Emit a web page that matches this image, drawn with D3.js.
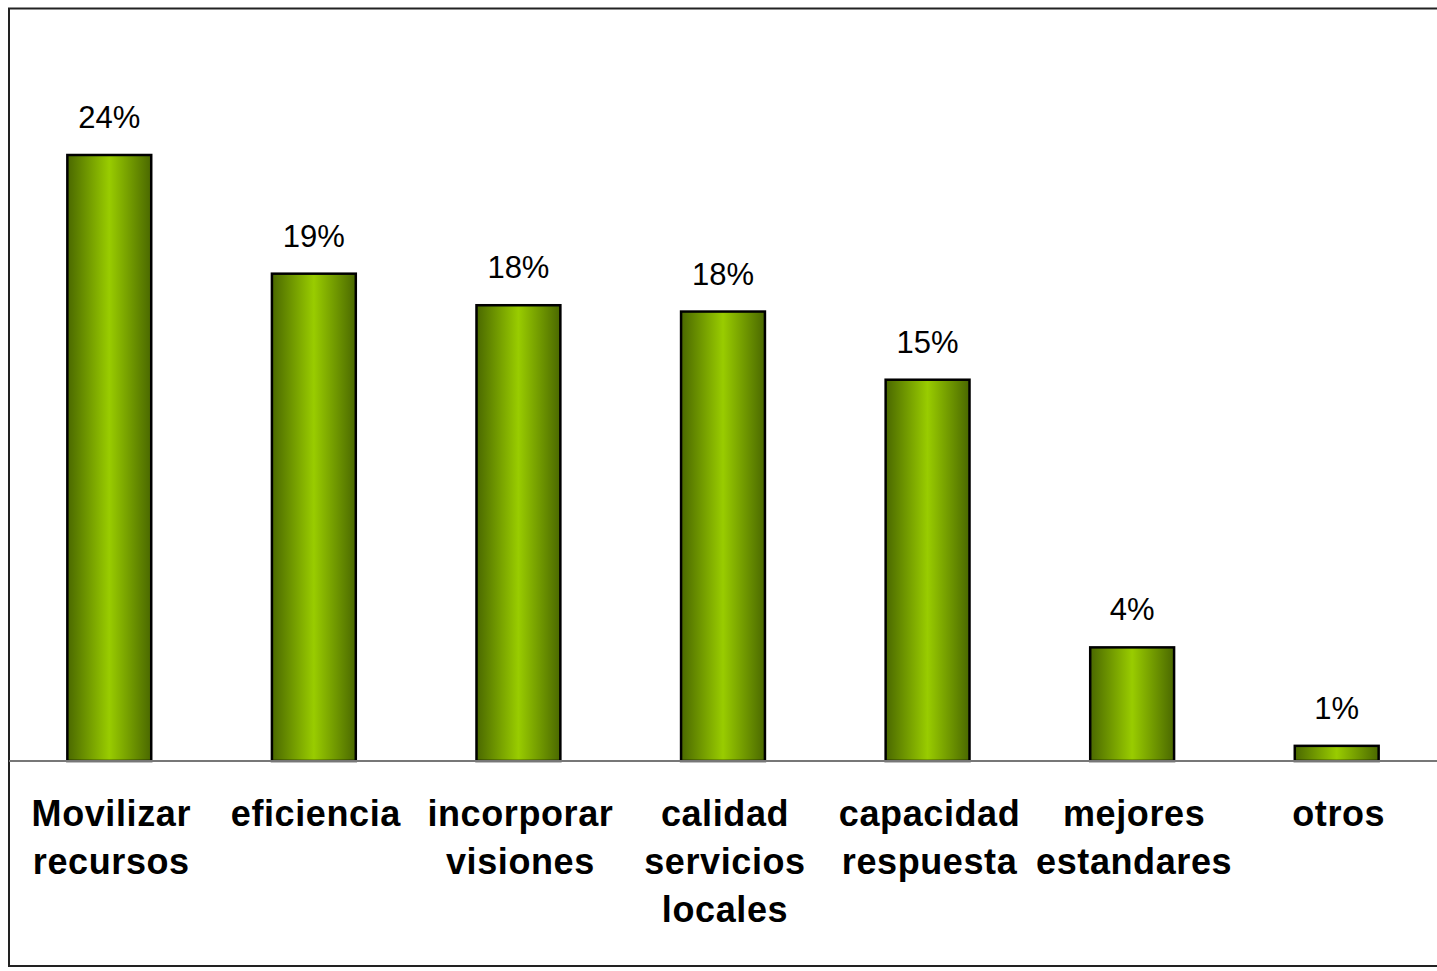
<!DOCTYPE html>
<html>
<head>
<meta charset="utf-8">
<script src="https://cdn.jsdelivr.net/npm/d3@7"></script>
<style>
html,body{margin:0;padding:0;background:#fff;overflow:hidden;}
svg{display:block;}
</style>
</head>
<body>
<svg id="chart" width="1437" height="971"></svg>
<script>
const categories = [
  ["Movilizar","recursos"],
  ["eficiencia"],
  ["incorporar","visiones"],
  ["calidad","servicios","locales"],
  ["capacidad","respuesta"],
  ["mejores","estandares"],
  ["otros"]
];
const values = [24.0, 19.3, 18.05, 17.8, 15.1, 4.5, 0.6];
const valueLabels = ["24%","19%","18%","18%","15%","4%","1%"];

const svg = d3.select("#chart");
const W = 1437, H = 971;
const baseY = 761;

const defs = svg.append("defs");
const grad = defs.append("linearGradient").attr("id","barGrad")
  .attr("x1","0%").attr("x2","100%").attr("y1","0%").attr("y2","0%");
grad.append("stop").attr("offset","0%").attr("stop-color","#4a6800");
grad.append("stop").attr("offset","50%").attr("stop-color","#99cc00");
grad.append("stop").attr("offset","100%").attr("stop-color","#4a6800");

// frame
svg.append("rect").attr("x",9).attr("y",8.5).attr("width",1460).attr("height",957.5)
  .attr("fill","none").attr("stroke","#222").attr("stroke-width",2);

const x = d3.scaleBand().domain(d3.range(categories.length))
  .range([7, 1439]).paddingInner(0.59).paddingOuter(0.295);
const y = d3.scaleLinear().domain([0, 30]).range([baseY, baseY - 30*25.25]);

const g = svg.append("g");
g.selectAll("rect.bar").data(values).enter().append("rect")
  .attr("class","bar")
  .attr("x",(d,i)=>x(i))
  .attr("y",d=>y(d))
  .attr("width",x.bandwidth())
  .attr("height",d=>baseY - y(d))
  .attr("fill","url(#barGrad)")
  .attr("stroke","#000").attr("stroke-width",2.5);

// baseline
svg.append("line").attr("x1",9).attr("x2",W).attr("y1",baseY).attr("y2",baseY)
  .attr("stroke","#777").attr("stroke-width",2);

// value labels
g.selectAll("text.val").data(values).enter().append("text")
  .attr("class","val")
  .attr("x",(d,i)=>x(i)+x.bandwidth()/2)
  .attr("y",d=>y(d)-27)
  .attr("text-anchor","middle")
  .attr("font-family","Liberation Sans, Arial, sans-serif")
  .attr("font-size",31)
  .attr("fill","#000")
  .text((d,i)=>valueLabels[i]);

// category labels
const cat = g.selectAll("text.cat").data(categories).enter().append("text")
  .attr("class","cat")
  .attr("text-anchor","middle")
  .attr("font-family","Liberation Sans, Arial, sans-serif")
  .attr("font-weight","bold")
  .attr("font-size",36)
  .attr("letter-spacing","0.6px")
  .attr("fill","#000");
cat.each(function(lines,i){
  const t = d3.select(this);
  lines.forEach((l,j)=>{
    t.append("tspan").attr("x",x(i)+x.bandwidth()/2+2).attr("y",826 + j*48).text(l);
  });
});
</script>
</body>
</html>
